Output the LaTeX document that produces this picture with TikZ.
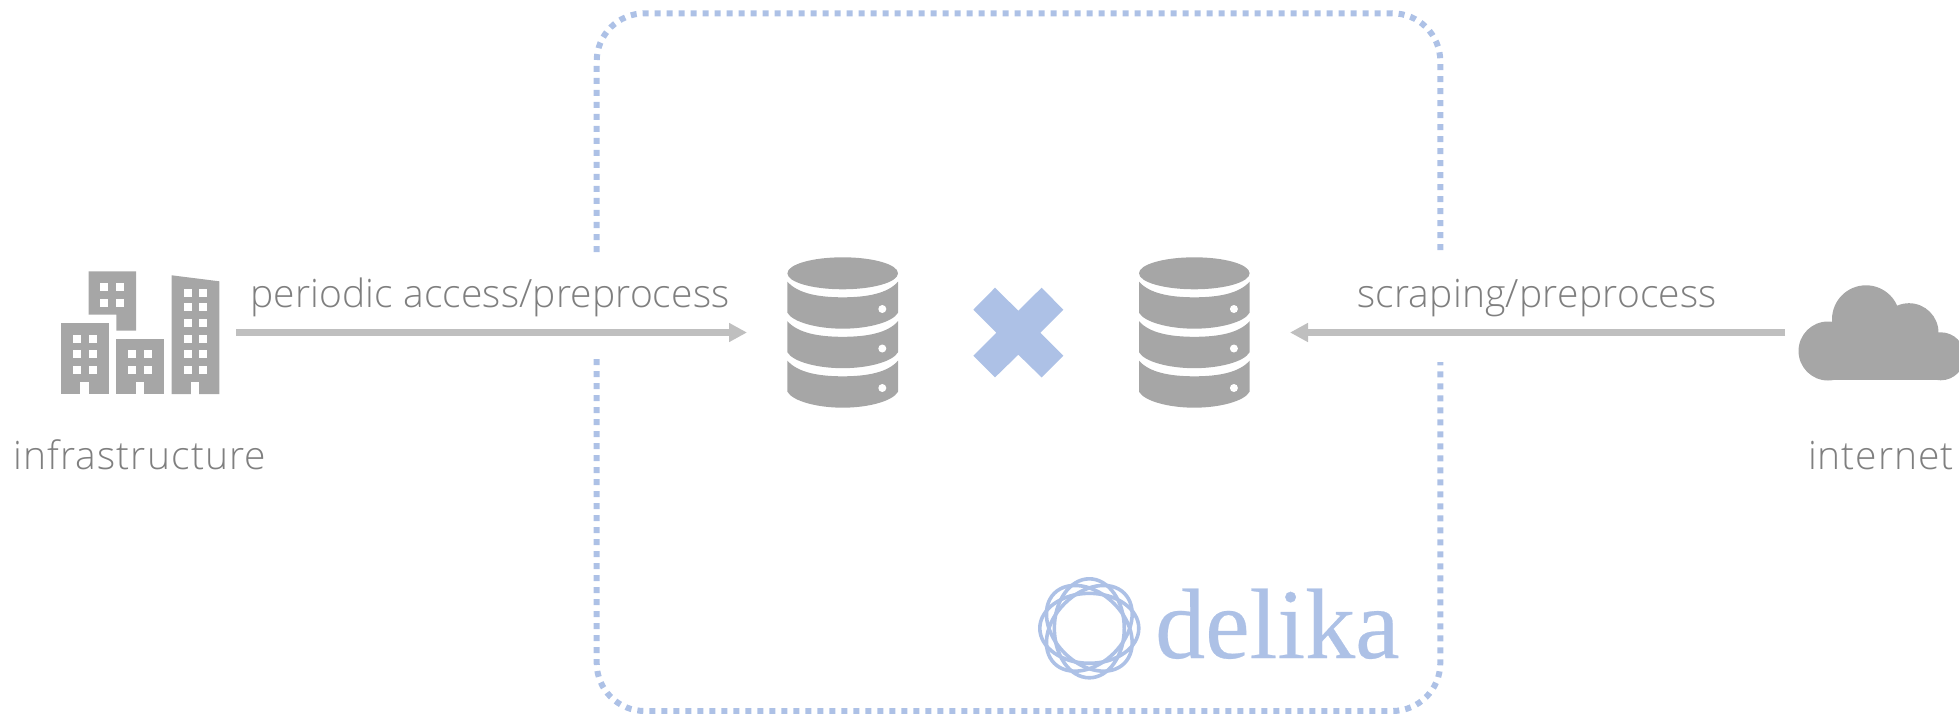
\documentclass[tikz,border=0pt]{standalone}
\usepackage{fontspec}
\setmainfont{Open Sans Light}
\newfontfamily\logofont[FakeBold=0.25]{Liberation Serif}
\usetikzlibrary{arrows.meta}
\definecolor{icongray}{HTML}{A6A6A6}
\definecolor{linegray}{HTML}{BFBFBF}
\definecolor{textgray}{HTML}{7F7F7F}
\definecolor{accentblue}{HTML}{ADC1E6}
\tikzset{
  x=1pt,y=-1pt,
  anchorbox/.style={inner sep=0pt,outer sep=0pt,minimum height=10pt},
  conn/.style={draw=linegray,line width=6.5pt,-{Triangle[length=18pt,width=18pt,fill=linegray]}},
  lbl/.style={text=textgray,font=\fontsize{39}{44}\selectfont,inner sep=0pt,anchor=base west},
  icon/.style={fill=icongray,draw=none},
  hole/.style={fill=white,draw=none},
  frameline/.style={draw=accentblue,line width=6pt,dash pattern=on 6pt off 6pt,rounded corners=48pt},
  logoline/.style={draw=accentblue,line width=3.6pt},
  pics/dbicon/.style={code={
    \fill[icongray] (0,0) ellipse [x radius=55.3,y radius=16];
    \foreach \d in {0,39.5,79}{
      \fill[icongray] (-55.3,8.4+\d) .. controls (-45,20+\d) and (-25,24+\d) .. (0,24+\d)
        .. controls (25,24+\d) and (45,20+\d) .. (55.3,8.4+\d)
        -- (55.3,39.4+\d) .. controls (50,49+\d) and (25,55.4+\d) .. (0,55.4+\d)
        .. controls (-25,55.4+\d) and (-50,49+\d) .. (-55.3,39.4+\d) -- cycle;
      \fill[white] (39.6,35.7+\d) circle [radius=4];
    }
  }},
  pics/window/.style={code={\fill[white] (0,0) rectangle (8,8);}}
}
\begin{document}
\begin{tikzpicture}
\useasboundingbox (0,0) rectangle (1959,714);
% frame
\draw[frameline] (596.7,252) -- (596.7,13.3) -- (1440.3,13.3) -- (1440.3,250);
\draw[frameline] (596.7,359) -- (596.7,711) -- (1440.3,711) -- (1440.3,362);
% buildings
\fill[icon] (61,322.7) rectangle (108.5,394);
\fill[icon] (116.3,338.7) rectangle (163.7,394);
\fill[icon] (88.7,271.3) -- (136,271.3) -- (136,330.7) -- (116.3,330.7) -- (116.3,314.7) -- (88.7,314.7) -- cycle;
\fill[icon] (171.7,275.3) -- (219.3,281.3) -- (219.3,394) -- (171.7,394) -- cycle;
\fill[hole] (80.3,382) rectangle (89,394.5);
\fill[hole] (136,382) rectangle (144.3,394.5);
\fill[hole] (191.3,382) rectangle (199.3,394.5);
\foreach \y in {334.7,350.3,366}{
  \foreach \x in {72.8,88.7}{\path (\x,\y) pic {window};}
}
\foreach \y in {350.3,366}{
  \foreach \x in {128.2,144}{\path (\x,\y) pic {window};}
}
\foreach \y in {283.3,299}{
  \foreach \x in {100.3,116.3}{\path (\x,\y) pic {window};}
}
\foreach \y in {289.3,303,319,334.7,350.3,366}{
  \foreach \x in {183.5,199.3}{\path (\x,\y) pic {window};}
}
% databases
\path (842.7,273.3) pic {dbicon};
\path (1194.3,273.3) pic {dbicon};
% cross
\fill[accentblue] (1018.3,310.7) -- ++(23.3,-23) -- ++(21.7,22) -- ++(-23,23) -- ++(23,23) -- ++(-21.7,21.7) -- ++(-23.3,-22.7) -- ++(-23.3,22.7) -- ++(-21.7,-21.7) -- ++(23,-23) -- ++(-23,-23) -- ++(21.7,-22) -- cycle;
% cloud
\begin{scope}
\clip (1780,270) rectangle (1959,400);
\fill[icon] (1828,351) circle [radius=29.5];
\fill[icon] (1866,319.3) circle [radius=34];
\fill[icon] (1909,332.7) circle [radius=29.5];
\fill[icon] (1940.7,356.3) circle [radius=24];
\fill[icon] (1828,335) rectangle (1940.7,380.3);
\end{scope}
% anchors for connectors
\node[anchorbox,minimum width=175pt] (infra) at (148.5,332.5) {};
\node[anchorbox,minimum width=226pt] (dbleft) at (860,332.5) {};
\node[anchorbox,minimum width=226pt] (dbright) at (1177,332.5) {};
\node[anchorbox,minimum width=150pt] (cloud) at (1860,332.5) {};
\draw[conn] (infra.east) -- (dbleft.west);
\draw[conn] (cloud.west) -- (dbright.east);
% labels
\node[lbl] (periodic) at (250,307) {\addfontfeature{LetterSpace=0.3}periodic access/preprocess};
\node[lbl] (scraping) at (1357,307) {\addfontfeature{LetterSpace=0.5}scraping/preprocess};
\node[lbl] (infratext) at (13,469) {\addfontfeature{LetterSpace=2.9}infrastructure};
\node[lbl] (nettext) at (1808,469) {\addfontfeature{LetterSpace=2.4}internet};
% logo
\foreach \a in {0,45,90,135}{
  \draw[logoline,rotate around={\a:(1089.3,628.3)}] (1089.3,628.3) ellipse [x radius=49.5,y radius=35];
}
\node[text=accentblue,font=\logofont\fontsize{100}{102}\selectfont,inner sep=0pt,anchor=base west] (logo) at (1155,658) {delika};
\end{tikzpicture}
\end{document}
